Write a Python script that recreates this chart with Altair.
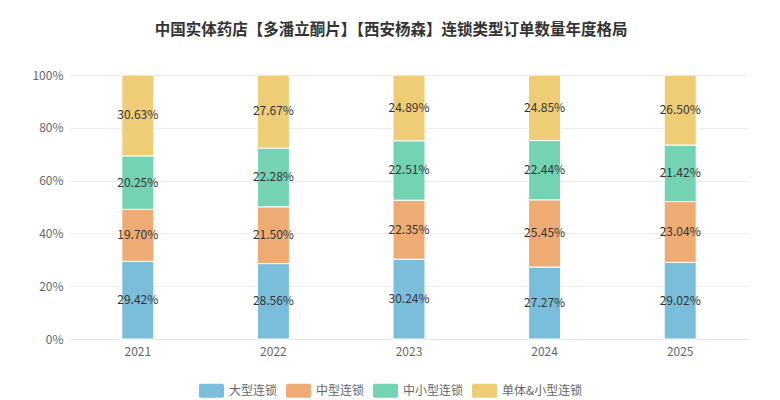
import altair as alt
import pandas as pd

years = ["2021", "2022", "2023", "2024", "2025"]
series = ["大型连锁", "中型连锁", "中小型连锁", "单体&小型连锁"]
colors = ["#7bbedb", "#eeab73", "#73d3b3", "#eecd76"]
vals_large = [29.42, 28.56, 30.24, 27.27, 29.02]
vals_mid = [19.70, 21.50, 22.35, 25.45, 23.04]
vals_smallmid = [20.25, 22.28, 22.51, 22.44, 21.42]
vals_single = [30.63, 27.67, 24.89, 24.85, 26.50]

rows = []
for si, (name, vals) in enumerate(zip(series, [vals_large, vals_mid, vals_smallmid, vals_single])):
    for y, v in zip(years, vals):
        rows.append({"year": y, "series": name, "order": si, "val": v / 100.0, "label": f"{v:.2f}%"})
df = pd.DataFrame(rows)

FONT = "Noto Sans CJK SC"

base = alt.Chart(df)

bars = base.mark_bar(size=32, stroke="white", strokeWidth=1).encode(
    x=alt.X("year:N", title=None, sort=years,
            scale=alt.Scale(paddingInner=0, paddingOuter=0),
            axis=alt.Axis(labelAngle=0, labelColor="#666", labelFontSize=12, labelFont=FONT,
                          ticks=False, domain=True, domainColor="#e6e6e6", labelPadding=7, grid=False)),
    y=alt.Y("val:Q", stack="zero", title=None,
            scale=alt.Scale(domain=[0, 1], nice=False, clamp=True),
            axis=alt.Axis(format=".0%", values=[0, 0.2, 0.4, 0.6, 0.8, 1.0], labelColor="#666",
                          labelFontSize=12, labelFont=FONT, ticks=False, domain=False,
                          gridColor="#ececec", labelPadding=7)),
    color=alt.Color("series:N", sort=series,
                    scale=alt.Scale(domain=series, range=colors),
                    legend=alt.Legend(title=None, orient="none", direction="horizontal",
                                      legendX=129, legendY=303, padding=0,
                                      symbolType="M-0.85,-0.56H0.85A0.15,0.15 0 0 1 1,-0.41V0.41A0.15,0.15 0 0 1 0.85,0.56H-0.85A0.15,0.15 0 0 1 -1,0.41V-0.41A0.15,0.15 0 0 1 -0.85,-0.56Z",
                                      symbolSize=625, symbolStrokeWidth=0, symbolOpacity=1,
                                      labelFont=FONT, labelFontSize=12, labelColor="#666",
                                      labelOffset=5, columnPadding=8)),
    order=alt.Order("order:Q", sort="ascending"),
)

texts = base.transform_window(
    cum="sum(val)", groupby=["year"], sort=[alt.SortField("order", order="ascending")]
).transform_calculate(
    mid="datum.cum - datum.val / 2"
).mark_text(font=FONT, fontSize=12, color="#333", baseline="middle", align="center").encode(
    x=alt.X("year:N", sort=years),
    y=alt.Y("mid:Q"),
    text="label:N",
)

chart = alt.layer(bars, texts).properties(
    width=678, height=264,
    autosize="none",
    padding={"left": 62, "top": 67, "right": 2, "bottom": 61},
    title=alt.TitleParams("中国实体药店【多潘立酮片】【西安杨森】连锁类型订单数量年度格局",
                          font=FONT, fontSize=15.5, fontWeight="bold", color="#333",
                          anchor="middle", dx=-18, offset=31),
).configure_view(stroke=None)

chart.save("out.html", embed_options={"renderer": "svg", "actions": False})
